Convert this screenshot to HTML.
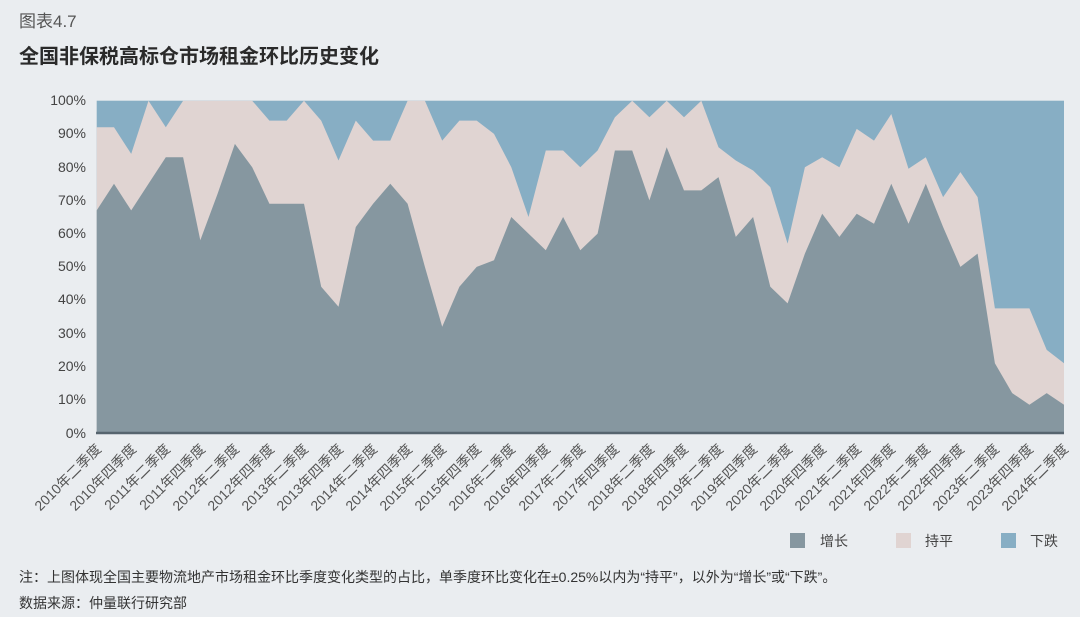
<!DOCTYPE html>
<html><head><meta charset="utf-8"><style>
body{margin:0;background:#eaedf0;}
svg{display:block;font-family:"Liberation Sans","Noto Sans CJK SC",sans-serif;}
</style></head><body>
<svg id="s" width="1080" height="617" viewBox="0 0 1080 617" xmlns="http://www.w3.org/2000/svg">
<rect width="1080" height="617" fill="#eaedf0"/>
<text x="19" y="27" font-size="17" fill="#555">图表4.7</text>
<text x="19" y="63" font-size="20" font-weight="bold" fill="#2a2a2a">全国非保税高标仓市场租金环比历史变化</text>
<rect x="96.7" y="100.7" width="967.3" height="332.3" fill="#87aec4"/>
<polygon id="pk" fill="#e0d4d2"/>
<polygon id="gr" fill="#8697a0"/>
<line x1="96" y1="433" x2="1064" y2="433" stroke="#56646e" stroke-width="2.5"/>
<g font-size="14" fill="#444" text-anchor="end">
<text x="86" y="105">100%</text><text x="86" y="138">90%</text><text x="86" y="172">80%</text><text x="86" y="205">70%</text><text x="86" y="238">60%</text><text x="86" y="271">50%</text><text x="86" y="304">40%</text><text x="86" y="338">30%</text><text x="86" y="371">20%</text><text x="86" y="404">10%</text><text x="86" y="438">0%</text>
</g>
<g font-size="14" fill="#555" text-anchor="end">
<text transform="translate(102,450) rotate(-45)">2010年二季度</text>
<text transform="translate(137,450) rotate(-45)">2010年四季度</text>
<text transform="translate(171,450) rotate(-45)">2011年二季度</text>
<text transform="translate(206,450) rotate(-45)">2011年四季度</text>
<text transform="translate(240,450) rotate(-45)">2012年二季度</text>
<text transform="translate(275,450) rotate(-45)">2012年四季度</text>
<text transform="translate(309,450) rotate(-45)">2013年二季度</text>
<text transform="translate(344,450) rotate(-45)">2013年四季度</text>
<text transform="translate(378,450) rotate(-45)">2014年二季度</text>
<text transform="translate(413,450) rotate(-45)">2014年四季度</text>
<text transform="translate(447,450) rotate(-45)">2015年二季度</text>
<text transform="translate(482,450) rotate(-45)">2015年四季度</text>
<text transform="translate(516,450) rotate(-45)">2016年二季度</text>
<text transform="translate(551,450) rotate(-45)">2016年四季度</text>
<text transform="translate(586,450) rotate(-45)">2017年二季度</text>
<text transform="translate(620,450) rotate(-45)">2017年四季度</text>
<text transform="translate(655,450) rotate(-45)">2018年二季度</text>
<text transform="translate(689,450) rotate(-45)">2018年四季度</text>
<text transform="translate(724,450) rotate(-45)">2019年二季度</text>
<text transform="translate(758,450) rotate(-45)">2019年四季度</text>
<text transform="translate(793,450) rotate(-45)">2020年二季度</text>
<text transform="translate(827,450) rotate(-45)">2020年四季度</text>
<text transform="translate(862,450) rotate(-45)">2021年二季度</text>
<text transform="translate(896,450) rotate(-45)">2021年四季度</text>
<text transform="translate(931,450) rotate(-45)">2022年二季度</text>
<text transform="translate(965,450) rotate(-45)">2022年四季度</text>
<text transform="translate(1000,450) rotate(-45)">2023年二季度</text>
<text transform="translate(1034,450) rotate(-45)">2023年四季度</text>
<text transform="translate(1069,450) rotate(-45)">2024年二季度</text>
</g>
<rect x="790" y="533" width="15" height="15" fill="#8697a0"/>
<text x="820" y="546" font-size="14" fill="#444">增长</text>
<rect x="896" y="533" width="15" height="15" fill="#e0d4d2"/>
<text x="925" y="546" font-size="14" fill="#444">持平</text>
<rect x="1001" y="533" width="15" height="15" fill="#87aec4"/>
<text x="1030" y="546" font-size="14" fill="#444">下跌</text>
<text x="19" y="582" font-size="14" fill="#333">注：上图体现全国主要物流地产市场租金环比季度变化类型的占比，单季度环比变化在±0.25%以内为“持平”，以外为“增长”或“下跌”。</text>
<text x="19" y="608" font-size="14" fill="#333">数据来源：仲量联行研究部</text>
</svg>
<script>
var g=[67,75,67,75,83,83,58,72,87,80,69,69,69,44,38,62,69,75,69,50,32,44,50,52,65,60,55,65,55,60,85,85,70,86,73,73,77,59,65,44,39,54,66,59,66,63,75,63,75,62,50,54,21,12,8.5,12,8.5];
var p=[92,92,84,100,92,100,100,100,100,100,94,94,100,94,82,94,88,88,100,100,88,94,94,90,80,65,85,85,80,85,95,100,95,100,95,100,86,82,79,74,57,80,83,80,91.5,88,96,79.5,83,71,78.5,71,37.5,37.5,37.5,25,21];
function pts(a){var s="96.7,433 ";for(var i=0;i<a.length;i++){s+=(96.7+i*17.273).toFixed(1)+","+(433-a[i]*3.323).toFixed(1)+" ";}return s+"1064,433";}
document.getElementById("gr").setAttribute("points",pts(g));
document.getElementById("pk").setAttribute("points",pts(p));
</script>
</body></html>
